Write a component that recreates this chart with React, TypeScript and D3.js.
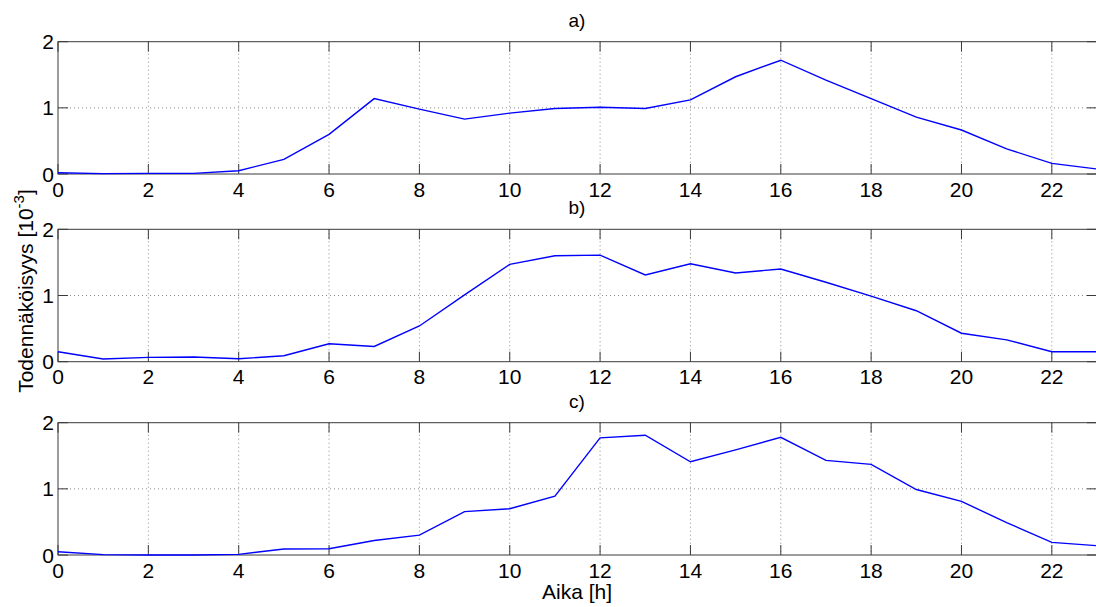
import React from "react";
import * as d3 from "d3";

const hours = d3.range(0, 24);
const seriesA = [0.02, 0.005, 0.01, 0.01, 0.05, 0.22, 0.6, 1.14, 0.98, 0.83, 0.92, 0.99, 1.01, 0.99, 1.12, 1.47, 1.72, 1.42, 1.14, 0.86, 0.665, 0.38, 0.16, 0.075];
const seriesB = [0.15, 0.04, 0.065, 0.07, 0.045, 0.09, 0.27, 0.23, 0.54, 1.01, 1.47, 1.6, 1.61, 1.31, 1.48, 1.34, 1.4, 1.2, 0.99, 0.77, 0.43, 0.33, 0.15, 0.15];
const seriesC = [0.05, 0.005, 0.0, 0.0, 0.01, 0.09, 0.095, 0.22, 0.3, 0.655, 0.7, 0.89, 1.77, 1.81, 1.41, 1.59, 1.78, 1.43, 1.37, 0.99, 0.81, 0.49, 0.19, 0.14];
const titles = ["a)", "b)", "c)"];
const xTicks = [0, 2, 4, 6, 8, 10, 12, 14, 16, 18, 20, 22];
const yTicks = [0, 1, 2];

const panels = [
  { title: titles[0], data: seriesA, top: 41.7, bottom: 174 },
  { title: titles[1], data: seriesB, top: 229.3, bottom: 361.7 },
  { title: titles[2], data: seriesC, top: 422.7, bottom: 555 },
];

const FONT = "'Liberation Sans', Arial, sans-serif";
const AX = "#3a3a3a";
const FS = 21;

export default function App() {
  const x = d3.scaleLinear().domain([0, 23]).range([58, 1097]);
  const tick = 10;
  return (
    <svg width={1096} height={607} style={{ position: "absolute", left: 0, top: 0, background: "#fff" }} fontFamily={FONT}>
      <rect x={0} y={0} width={1096} height={607} fill="#fff" />
      {panels.map((p, i) => {
        const y = d3.scaleLinear().domain([0, 2]).range([p.bottom, p.top]);
        const line = d3.line<number>().x((_, j) => x(hours[j])).y((d) => y(d));
        const [x0, x1] = x.range();
        return (
          <g key={i}>
            {xTicks.slice(1).map((t) => (
              <line key={"gx" + t} x1={x(t)} x2={x(t)} y1={p.top} y2={p.bottom} stroke="#8a8a8a" strokeWidth={1} strokeDasharray="1 3" />
            ))}
            {yTicks.slice(1, 2).map((t) => (
              <line key={"gy" + t} x1={x0} x2={x1} y1={y(t)} y2={y(t)} stroke="#8a8a8a" strokeWidth={1} strokeDasharray="1 3" />
            ))}
            {xTicks.map((t) => (
              <g key={"tx" + t}>
                <line x1={x(t)} x2={x(t)} y1={p.bottom} y2={p.bottom - tick} stroke={AX} strokeWidth={1} />
                <line x1={x(t)} x2={x(t)} y1={p.top} y2={p.top + tick} stroke={AX} strokeWidth={1} />
                <text x={x(t)} y={p.bottom + 22.5} textAnchor="middle" fontSize={FS} fill="#000">{t}</text>
              </g>
            ))}
            {yTicks.map((t) => (
              <g key={"ty" + t}>
                <line x1={x0} x2={x0 + tick} y1={y(t)} y2={y(t)} stroke={AX} strokeWidth={1} />
                <line x1={x1} x2={x1 - tick} y1={y(t)} y2={y(t)} stroke={AX} strokeWidth={1} />
                <text x={54} y={y(t) + 7.5} textAnchor="end" fontSize={FS} fill="#000">{t}</text>
              </g>
            ))}
            <rect x={x0} y={p.top} width={x1 - x0} height={p.bottom - p.top} fill="none" stroke={AX} strokeWidth={1} />
            <path d={line(p.data) || ""} fill="none" stroke="#0000ff" strokeWidth={1.4} />
            <text x={577} y={p.top - 15} textAnchor="middle" fontSize={FS - 2} fill="#000">{p.title}</text>
          </g>
        );
      })}
      <text transform="translate(33,291) rotate(-90)" textAnchor="middle" fontSize={FS} fill="#000">
        Todennäköisyys [10<tspan dy={-9} fontSize={15}>-3</tspan><tspan dy={9}>]</tspan>
      </text>
      <text x={577} y={599} textAnchor="middle" fontSize={FS} fill="#000">Aika [h]</text>
    </svg>
  );
}
